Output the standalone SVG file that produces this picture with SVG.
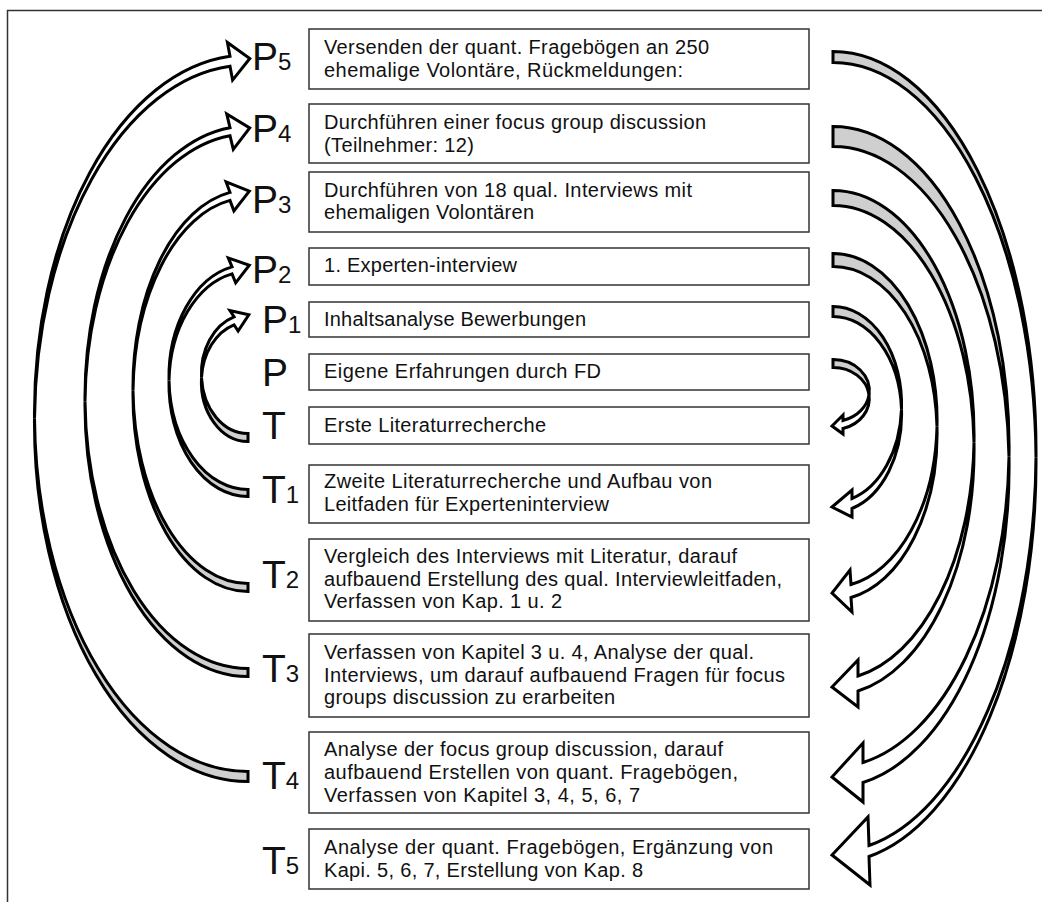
<svg xmlns="http://www.w3.org/2000/svg" width="1042" height="902" viewBox="0 0 1042 902">
<style>
.frame{fill:none;stroke:#333;stroke-width:1.5}
.box{fill:#fff;stroke:#333;stroke-width:1.5}
.t{font-family:"Liberation Sans",Arial,sans-serif;font-size:20px;fill:#111}
.lbl{font-family:"Liberation Sans",Arial,sans-serif;font-size:39px;fill:#111}
.sub{font-size:24px}
.back{fill:#cfcfcf;stroke:#000;stroke-width:3;stroke-linejoin:miter}
.front{fill:#fff;stroke:#000;stroke-width:3;stroke-linejoin:miter;stroke-miterlimit:10}
</style>
<rect x="0" y="0" width="1042" height="902" fill="#fff"/>
<rect class="frame" x="7.5" y="10.5" width="1045" height="900"/>
<g id="connectors">
<path class="back" d="M 248 771.5 A 213.5 358.25 0 0 1 34.5 418.25 A 213.5 358.25 0 0 0 248 781.5 Z"/>
<path class="front" d="M 230 56.27 A 213.5 358.25 0 0 0 34.5 418.25 A 213.5 358.25 0 0 1 230 66.27 L 232.6 80.1 L 249.8 58.5 L 227.4 42.5 Z"/>
<path class="back" d="M 248 668.5 A 163 271.25 0 0 1 85 401.25 A 163 271.25 0 0 0 248 676.5 Z"/>
<path class="front" d="M 230 127.66 A 163 271.25 0 0 0 85 401.25 A 163 271.25 0 0 1 230 135.66 L 233.3 149.35 L 249.7 128 L 226.7 113.96 Z"/>
<path class="back" d="M 248 583.5 A 115 196.75 0 0 1 133 390.75 A 115 196.75 0 0 0 248 591.5 Z"/>
<path class="front" d="M 230 192.42 A 115 196.75 0 0 0 133 390.75 A 115 196.75 0 0 1 230 200.42 L 233.9 210.9 L 249.3 191.2 L 226.1 181.9 Z"/>
<path class="back" d="M 248 489.5 A 79 112.5 0 0 1 169 380.5 A 79 112.5 0 0 0 248 496.5 Z"/>
<path class="front" d="M 232 266.83 A 79 112.5 0 0 0 169 380.5 A 79 112.5 0 0 1 232 273.83 L 235.7 282.8 L 249.3 265.25 L 228.3 257.9 Z"/>
<path class="back" d="M 248 433.5 A 46.5 59.75 0 0 1 201.5 377.75 A 46.5 59.75 0 0 0 248 441.5 Z"/>
<path class="front" d="M 234 316.77 A 46.5 59.75 0 0 0 201.5 377.75 A 46.5 59.75 0 0 1 234 324.77 L 238.1 331 L 248.8 314.7 L 229.9 310.6 Z"/>

<path class="back" d="M 833 51.5 A 203 400.17 0 0 1 1036 457.17 A 203 400.17 0 0 0 833 62.5 Z"/>
<path class="front" d="M 869 845.5 A 203 400.17 0 0 0 1036 457.17 A 203 400.17 0 0 1 869 856.5 L 870 885 L 832 855 L 868 817 Z"/>
<path class="back" d="M 833 126.5 A 176 320.34 0 0 1 1009 456.84 A 176 320.34 0 0 0 833 146.5 Z"/>
<path class="front" d="M 863 762.5 A 176 320.34 0 0 0 1009 456.84 A 176 320.34 0 0 1 863 782.5 L 863 802 L 832 777 L 863 743 Z"/>
<path class="back" d="M 833 190.5 A 141 244.69 0 0 1 974 442.69 A 141 244.69 0 0 0 833 205.5 Z"/>
<path class="front" d="M 858 676 A 141 244.69 0 0 0 974 442.69 A 141 244.69 0 0 1 858 691 L 858 707 L 832 687 L 858 660 Z"/>
<path class="back" d="M 833 253.5 A 104 166.76 0 0 1 937 426.76 A 104 166.76 0 0 0 833 266.5 Z"/>
<path class="front" d="M 851 584.5 A 104 166.76 0 0 0 937 426.76 A 104 166.76 0 0 1 851 597.5 L 852 612 L 832 593 L 850 570 Z"/>
<path class="back" d="M 833 306.5 A 68.5 97.92 0 0 1 901.5 409.42 A 68.5 97.92 0 0 0 833 316.5 Z"/>
<path class="front" d="M 852 498.5 A 68.5 97.92 0 0 0 901.5 409.42 A 68.5 97.92 0 0 1 852 508.5 L 852 517 L 832 507 L 852 490 Z"/>
<path class="back" d="M 833 359.5 A 36 31.11 0 0 1 869 394.61 A 36 31.11 0 0 0 833 367.5 Z"/>
<path class="front" d="M 843 420.5 A 36 31.11 0 0 0 869 394.61 A 36 31.11 0 0 1 843 428.5 L 843 434 L 832 426 L 843 415 Z"/>
</g>

<g id="P5"><text class="lbl" x="252" y="70">P<tspan class="sub">5</tspan></text>
<rect class="box" x="309" y="29" width="500" height="60"/>
<text class="t" x="324" y="54" textLength="385" lengthAdjust="spacing">Versenden der quant. Fragebögen an 250</text>
<text class="t" x="324" y="77" textLength="359" lengthAdjust="spacing">ehemalige Volontäre, Rückmeldungen:</text></g>

<g id="P4"><text class="lbl" x="252" y="142">P<tspan class="sub">4</tspan></text>
<rect class="box" x="309" y="104" width="500" height="59"/>
<text class="t" x="324" y="129" textLength="382" lengthAdjust="spacing">Durchführen einer focus group discussion</text>
<text class="t" x="324" y="152" textLength="150" lengthAdjust="spacing">(Teilnehmer: 12)</text></g>

<g id="P3"><text class="lbl" x="252" y="213">P<tspan class="sub">3</tspan></text>
<rect class="box" x="309" y="172" width="500" height="60"/>
<text class="t" x="324" y="197" textLength="368" lengthAdjust="spacing">Durchführen von 18 qual. Interviews mit</text>
<text class="t" x="324" y="219" textLength="210" lengthAdjust="spacing">ehemaligen Volontären</text></g>

<g id="P2"><text class="lbl" x="252" y="283">P<tspan class="sub">2</tspan></text>
<rect class="box" x="309" y="248" width="500" height="37"/>
<text class="t" x="324" y="272" textLength="193" lengthAdjust="spacing">1. Experten-interview</text></g>

<g id="P1"><text class="lbl" x="262" y="333">P<tspan class="sub">1</tspan></text>
<rect class="box" x="309" y="302" width="500" height="35"/>
<text class="t" x="324" y="326" textLength="262" lengthAdjust="spacing">Inhaltsanalyse Bewerbungen</text></g>

<g id="P"><text class="lbl" x="262" y="386">P</text>
<rect class="box" x="309" y="354" width="500" height="36"/>
<text class="t" x="324" y="378" textLength="277" lengthAdjust="spacing">Eigene Erfahrungen durch FD</text></g>

<g id="T"><text class="lbl" x="262" y="439">T</text>
<rect class="box" x="309" y="407" width="500" height="37"/>
<text class="t" x="324" y="432" textLength="222" lengthAdjust="spacing">Erste Literaturrecherche</text></g>

<g id="T1"><text class="lbl" x="262" y="503">T<tspan class="sub">1</tspan></text>
<rect class="box" x="309" y="465" width="500" height="58"/>
<text class="t" x="324" y="488" textLength="388" lengthAdjust="spacing">Zweite Literaturrecherche und Aufbau von</text>
<text class="t" x="324" y="511" textLength="285" lengthAdjust="spacing">Leitfaden für Experteninterview</text></g>

<g id="T2"><text class="lbl" x="262" y="588">T<tspan class="sub">2</tspan></text>
<rect class="box" x="309" y="539" width="500" height="82"/>
<text class="t" x="324" y="563" textLength="413" lengthAdjust="spacing">Vergleich des Interviews mit Literatur, darauf</text>
<text class="t" x="324" y="586" textLength="458" lengthAdjust="spacing">aufbauend Erstellung des qual. Interviewleitfaden,</text>
<text class="t" x="324" y="608" textLength="238" lengthAdjust="spacing">Verfassen von Kap. 1 u. 2</text></g>

<g id="T3"><text class="lbl" x="262" y="682">T<tspan class="sub">3</tspan></text>
<rect class="box" x="309" y="634" width="500" height="83"/>
<text class="t" x="324" y="659" textLength="430" lengthAdjust="spacing">Verfassen von Kapitel 3 u. 4, Analyse der qual.</text>
<text class="t" x="324" y="682" textLength="461" lengthAdjust="spacing">Interviews, um darauf aufbauend Fragen für focus</text>
<text class="t" x="324" y="704" textLength="291" lengthAdjust="spacing">groups discussion zu erarbeiten</text></g>

<g id="T4"><text class="lbl" x="262" y="789">T<tspan class="sub">4</tspan></text>
<rect class="box" x="309" y="732" width="500" height="81"/>
<text class="t" x="324" y="756" textLength="399" lengthAdjust="spacing">Analyse der focus group discussion, darauf</text>
<text class="t" x="324" y="779" textLength="414" lengthAdjust="spacing">aufbauend Erstellen von quant. Fragebögen,</text>
<text class="t" x="324" y="802" textLength="316" lengthAdjust="spacing">Verfassen von Kapitel 3, 4, 5, 6, 7</text></g>

<g id="T5"><text class="lbl" x="262" y="874">T<tspan class="sub">5</tspan></text>
<rect class="box" x="309" y="829" width="500" height="60"/>
<text class="t" x="324" y="854" textLength="449" lengthAdjust="spacing">Analyse der quant. Fragebögen, Ergänzung von</text>
<text class="t" x="324" y="877" textLength="319" lengthAdjust="spacing">Kapi. 5, 6, 7, Erstellung von Kap. 8</text></g>
</svg>
